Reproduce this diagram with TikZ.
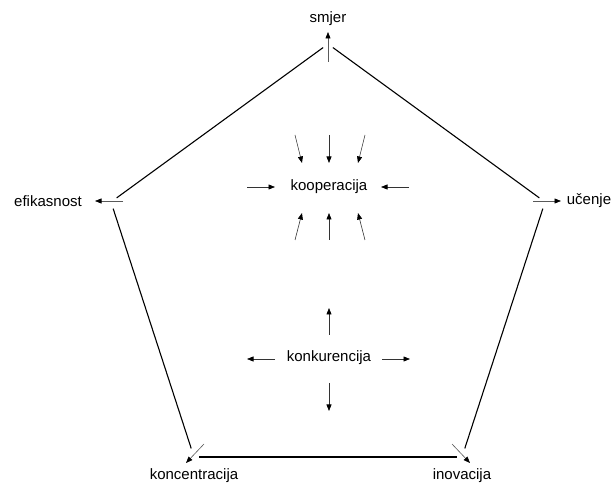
\documentclass[tikz,border=0pt]{standalone}
\usepackage{fontspec}
\setmainfont{Liberation Sans}
\usetikzlibrary{arrows.meta}
\begin{document}
\begin{tikzpicture}[x=1pt,y=-1pt,
  edge/.style={line width=1.1pt,black},
  vtx/.style={line width=0.6pt,gray!70!black,-{Triangle[length=6.5pt,width=5pt,fill=black,color=black]}},
  inarr/.style={line width=0.6pt,black!80,-{Triangle[length=6.5pt,width=5pt,fill=black,color=black]}},
  lbl/.style={font=\fontsize{15}{18}\selectfont,inner sep=0pt}]
\useasboundingbox (0,0) rectangle (614,486);
% labels
\node[lbl] (smjer) at (328,19) {smjer};
\node[lbl] (efik) at (48,201) {efikasnost};
\node[lbl] (ucenje) at (589,201) {učenje};
\node[lbl] (konc) at (194,476) {koncentracija};
\node[lbl] (inov) at (462,476) {inovacija};
\node[lbl] (koop) at (329,187) {kooperacija};
\node[lbl] (konk) at (329,358) {konkurencija};
% regular pentagon vertices
\coordinate (T) at (328,44);
\coordinate (L) at (111,202);
\coordinate (R) at (545,202);
\coordinate (BL) at (194,457);
\coordinate (BR) at (462,457);
\draw[edge,shorten <=7pt,shorten >=6pt] (L) -- (T);
\draw[edge,shorten <=6pt,shorten >=7pt] (T) -- (R);
\draw[edge,shorten <=7pt,shorten >=9pt] (L) -- (BL);
\draw[edge,shorten <=7pt,shorten >=9pt] (R) -- (BR);
\draw[edge,shorten <=5pt,shorten >=5pt] (BL) -- (BR);
% vertex arrows
\coordinate (s0) at (328,62); \coordinate (s1) at (328,32);
\coordinate (e0) at (123,201); \coordinate (e1) at (95,201);
\coordinate (u0) at (533,201); \coordinate (u1) at (561,201);
\coordinate (k0) at (204,444); \coordinate (k1) at (186,463);
\coordinate (i0) at (452,444); \coordinate (i1) at (470,463);
\draw[vtx] (s0) -- (s1);
\draw[vtx] (e0) -- (e1);
\draw[vtx] (u0) -- (u1);
\draw[vtx] (k0) -- (k1);
\draw[vtx] (i0) -- (i1);
% kooperacija arrows
\coordinate (ka0) at (295,135); \coordinate (ka1) at (302,163);
\coordinate (kb0) at (329,135); \coordinate (kb1) at (329,163);
\coordinate (kc0) at (365,135); \coordinate (kc1) at (358,163);
\coordinate (kd0) at (295,240); \coordinate (kd1) at (302,213);
\coordinate (ke0) at (329,240); \coordinate (ke1) at (329,213);
\coordinate (kf0) at (365,240); \coordinate (kf1) at (358,213);
\coordinate (kg0) at (247,187); \coordinate (kg1) at (275,187);
\coordinate (kh0) at (409,187); \coordinate (kh1) at (381,187);
\foreach \a in {a,b,c,d,e,f,g,h} \draw[inarr] (k\a0) -- (k\a1);
% konkurencija arrows
\coordinate (ca0) at (329,335); \coordinate (ca1) at (329,308);
\coordinate (cb0) at (329,383); \coordinate (cb1) at (329,411);
\coordinate (cc0) at (275,359); \coordinate (cc1) at (247,359);
\coordinate (cd0) at (382,359); \coordinate (cd1) at (410,359);
\foreach \a in {a,b,c,d} \draw[inarr] (c\a0) -- (c\a1);
\end{tikzpicture}
\end{document}
